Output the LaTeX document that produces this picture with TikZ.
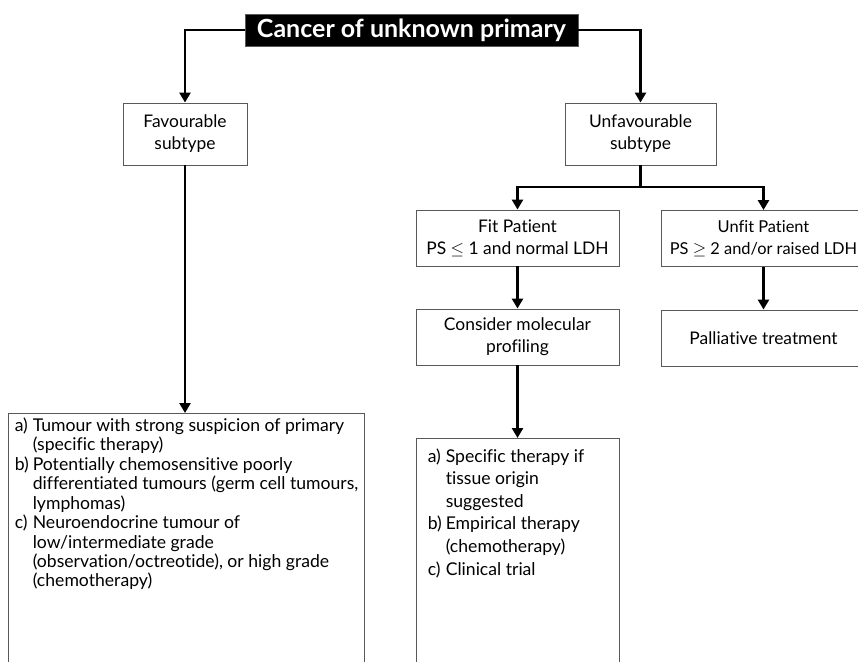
\documentclass[tikz,border=0pt]{standalone}
\usepackage{fontspec}
\setmainfont{Lato}[Ligatures=NoCommon]
\usetikzlibrary{arrows.meta,positioning}

\tikzset{
  box/.style={draw=black!65, line width=0.9pt, fill=white, align=center, inner sep=2pt,
    font=\fontsize{17.4}{22}\selectfont},
  flow/.style={line width=2.6pt, -{Triangle[length=10pt,width=11pt]}},
  listtext/.style={anchor=north west, inner sep=0pt, font=\fontsize{17.6}{19.4}\selectfont}
}

\begin{document}
\begin{tikzpicture}[x=1pt,y=-1pt]
  \path[use as bounding box, clip] (0,0) rectangle (858,661);

  \node[box, fill=black, text=white, font=\fontsize{25}{28}\selectfont\bfseries,
    minimum width=333pt, minimum height=32pt] (cup) at (411.5,30) {Cancer of unknown primary};

  \node[box, minimum width=124pt, minimum height=62pt] (fav) at (185,134) {Favourable\\subtype};
  \node[box, minimum width=151pt, minimum height=62pt] (unfav) at (640.5,134) {Unfavourable\\subtype};

  \node[box, minimum width=203pt, minimum height=56pt] (fit) at (517.5,238)
    {Fit Patient\\PS $\leq$ 1 and normal LDH};
  \node[box, minimum width=205pt, minimum height=56pt, font=\fontsize{16.4}{22}\selectfont]
    (unfit) at (763.5,238.5) {Unfit Patient\\PS $\geq$ 2 and/or raised LDH};

  \node[box, minimum width=203pt, minimum height=56pt] (mol) at (517.5,337)
    {Consider molecular\\profiling};
  \node[box, minimum width=205pt, minimum height=56pt] (pall) at (763.5,338)
    {Palliative treatment};

  % lower boxes run past the bottom edge
  \node[box, minimum width=356pt, minimum height=280pt, anchor=north] (favopts) at (186,413) {};
  \node[listtext] (favtext) at ([shift={(7,4.4)}]favopts.north west) {%
    \begin{tabular}{@{}l@{\hspace{4pt}}l@{}}
      a) & Tumour with strong suspicion of primary\\
         & (specific therapy)\\
      b) & Potentially chemosensitive poorly\\
         & differentiated tumours (germ cell tumours,\\
         & lymphomas)\\
      c) & Neuroendocrine tumour of\\
         & low/intermediate grade\\
         & (observation/octreotide), or high grade\\
         & (chemotherapy)
    \end{tabular}};

  \node[box, minimum width=203pt, minimum height=260pt, anchor=north] (molopts) at (517.5,438) {};
  \node[listtext, font=\fontsize{17.6}{22.6}\selectfont] (moltext) at ([shift={(12,8)}]molopts.north west) {%
    \begin{tabular}{@{}l@{\hspace{4pt}}l@{}}
      a) & Specific therapy if\\
         & tissue origin\\
         & suggested\\
      b) & Empirical therapy\\
         & (chemotherapy)\\
      c) & Clinical trial
    \end{tabular}};

  \draw[flow] (cup.west) -| (fav.north);
  \draw[flow] (cup.east) -| (unfav.north);
  \draw[flow] (fav.south) -- (fav.south |- favopts.north);

  \coordinate (split) at (640.5,187);
  \draw[line width=2.6pt] (unfav.south) -- (split);
  \draw[flow] (split) -| (fit.north);
  \draw[flow] (split) -| (unfit.north);

  \draw[flow] (fit) -- (mol);
  \draw[flow] (unfit) -- (pall);
  \draw[flow] (mol) -- (molopts);
\end{tikzpicture}
\end{document}
